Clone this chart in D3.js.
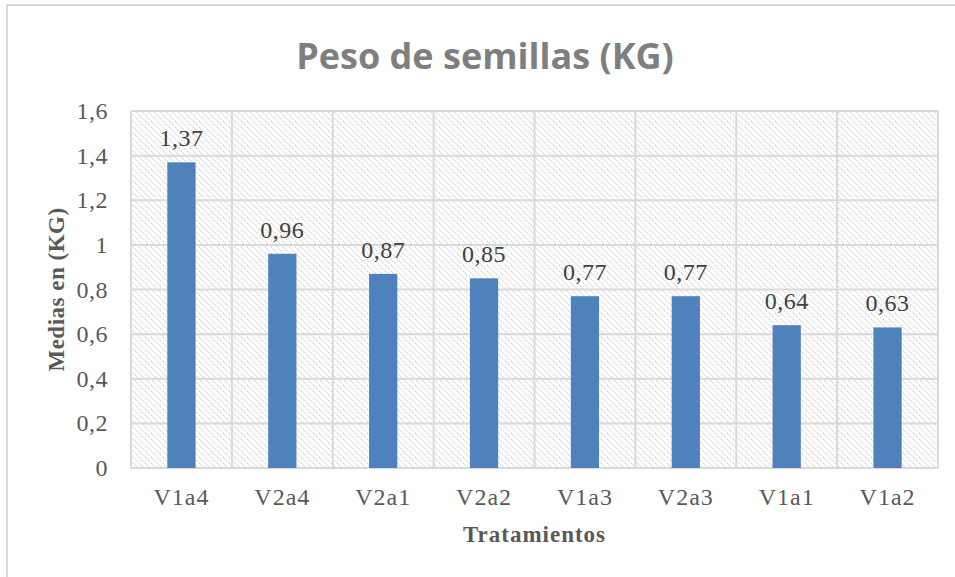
<!DOCTYPE html>
<html>
<head>
<meta charset="utf-8">
<script src="https://cdn.jsdelivr.net/npm/d3@7"></script>
<style>
  body { margin: 0; background: #fff; }
  svg text { font-family: "Liberation Serif", "DejaVu Serif", serif; }
</style>
</head>
<body>
<svg id="chart" width="955" height="577"></svg>
<script>
const categories = ["V1a4", "V2a4", "V2a1", "V2a2", "V1a3", "V2a3", "V1a1", "V1a2"];
const values = [1.37, 0.96, 0.87, 0.85, 0.77, 0.77, 0.64, 0.63];
const yTicks = [0, 0.2, 0.4, 0.6, 0.8, 1, 1.2, 1.4, 1.6];

const svg = d3.select("#chart");
const fmt = (v) => String(+v.toFixed(2)).replace(".", ",");

// chart border (runs off the right and bottom edge)
svg.append("rect")
  .attr("x", 7).attr("y", 5)
  .attr("width", 960).attr("height", 580)
  .attr("fill", "#fff")
  .attr("stroke", "#d9d9d9")
  .attr("stroke-width", 2);

const plot = { left: 131, right: 938, top: 111, bottom: 468 };

// hatch pattern for plot background
const defs = svg.append("defs");
const pat = defs.append("pattern")
  .attr("id", "hatch")
  .attr("patternUnits", "userSpaceOnUse")
  .attr("width", 6).attr("height", 6);
pat.append("path")
  .attr("d", "M-1,-1 L7,7 M-1,5 L1,7 M5,-1 L7,1")
  .attr("stroke", "#d4d4d4")
  .attr("stroke-width", 1.3)
  .attr("stroke-dasharray", "1.5,1");

const x = d3.scaleBand()
  .domain(categories)
  .range([plot.left, plot.right])
  .padding(0);
const y = d3.scaleLinear()
  .domain([0, 1.6])
  .range([plot.bottom, plot.top]);

svg.append("rect")
  .attr("x", plot.left).attr("y", plot.top)
  .attr("width", plot.right - plot.left)
  .attr("height", plot.bottom - plot.top)
  .attr("fill", "url(#hatch)");

// horizontal gridlines
svg.append("g")
  .selectAll("line")
  .data(yTicks)
  .join("line")
  .attr("x1", plot.left).attr("x2", plot.right)
  .attr("y1", (d) => y(d)).attr("y2", (d) => y(d))
  .attr("stroke", "#d9d9d9")
  .attr("stroke-width", 2);

// vertical gridlines at category boundaries
const bounds = categories.map((c) => x(c)).concat([plot.right]);
svg.append("g")
  .selectAll("line")
  .data(bounds)
  .join("line")
  .attr("x1", (d) => d).attr("x2", (d) => d)
  .attr("y1", plot.top).attr("y2", plot.bottom)
  .attr("stroke", "#d9d9d9")
  .attr("stroke-width", 2);

// bars
const barW = x.bandwidth() * 0.28;
svg.append("g")
  .selectAll("rect")
  .data(values)
  .join("rect")
  .attr("x", (d, i) => x(categories[i]) + (x.bandwidth() - barW) / 2)
  .attr("y", (d) => y(d))
  .attr("width", barW)
  .attr("height", (d) => y(0) - y(d))
  .attr("fill", "#4f81bd");

// data labels
svg.append("g")
  .selectAll("text")
  .data(values)
  .join("text")
  .attr("x", (d, i) => x(categories[i]) + x.bandwidth() / 2)
  .attr("y", (d) => y(d) - 16)
  .attr("text-anchor", "middle")
  .attr("font-size", 24)
  .attr("letter-spacing", 0.5)
  .attr("fill", "#404040")
  .text((d) => fmt(d));

// y tick labels
svg.append("g")
  .selectAll("text")
  .data(yTicks)
  .join("text")
  .attr("x", 108)
  .attr("y", (d) => y(d) + 8)
  .attr("text-anchor", "end")
  .attr("font-size", 24)
  .attr("letter-spacing", 0.5)
  .attr("fill", "#595959")
  .text((d) => fmt(d));

// x tick labels
svg.append("g")
  .selectAll("text")
  .data(categories)
  .join("text")
  .attr("x", (d) => x(d) + x.bandwidth() / 2)
  .attr("y", 505)
  .attr("text-anchor", "middle")
  .attr("font-size", 24)
  .attr("letter-spacing", 1)
  .attr("fill", "#595959")
  .text((d) => d);

// axis titles
svg.append("text")
  .attr("x", (plot.left + plot.right) / 2)
  .attr("y", 542)
  .attr("text-anchor", "middle")
  .attr("font-size", 23)
  .attr("font-weight", "bold")
  .attr("letter-spacing", 1)
  .attr("fill", "#595959")
  .text("Tratamientos");

svg.append("text")
  .attr("transform", `translate(64,${(plot.top + plot.bottom) / 2}) rotate(-90)`)
  .attr("text-anchor", "middle")
  .attr("font-size", 23)
  .attr("font-weight", "bold")
  .attr("letter-spacing", 0.5)
  .attr("fill", "#595959")
  .text("Medias en (KG)");

// title
svg.append("text")
  .attr("x", 485)
  .attr("y", 69)
  .attr("text-anchor", "middle")
  .attr("font-size", 36)
  .attr("font-weight", "bold")
  .attr("fill", "#7f7f7f")
  .style("font-family", "'Open Sans', 'Liberation Sans', sans-serif")
  .text("Peso de semillas (KG)");
</script>
</body>
</html>
